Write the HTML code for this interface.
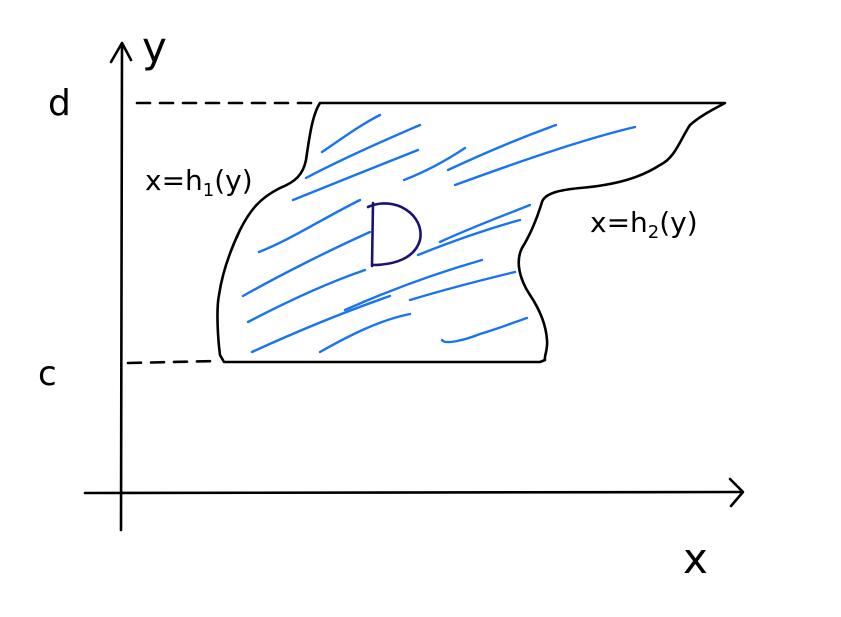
<!DOCTYPE html>
<html><head><meta charset="utf-8"><style>
html,body{margin:0;padding:0;background:#fff;width:841px;height:617px;overflow:hidden}
svg{display:block}
text{font-family:"DejaVu Sans","Liberation Sans",sans-serif}
</style></head><body>
<svg width="841" height="617" viewBox="0 0 841 617">
<rect width="841" height="617" fill="#fff"/>
<g fill="none" stroke="#000" stroke-width="2.6" stroke-linecap="round" stroke-linejoin="round">
 <path d="M121,530 L122,45"/>
 <path d="M111,62 L122,43 L131,60"/>
 <path d="M85,493 L740,492"/>
 <path d="M730,479 L743,492 L731,506"/>
 <path stroke-dasharray="13,10" d="M137,103 L318,103"/>
 <path stroke-dasharray="13,10" d="M128,363 L218,361"/>
 <path d="M320,103 L725,103 C712,110 700,116 690,125 C680,140 675,158 660,165 C640,178 615,185 580,188 C560,190 545,193 542,202 C538,215 532,232 522,248 C515,262 520,280 530,295 C540,310 546,325 547,340 C548,350 544,356 545,360 L540,362 L224,362 L220,355 C218,340 216,310 219,295 C222,275 228,255 240,230 C250,210 260,198 280,188 C295,182 303,175 306,160 C309,140 312,115 320,103 Z"/>
</g>
<g fill="none" stroke="#1a73f0" stroke-width="2.4" stroke-linecap="round">
 <path d="M322,152 C340,140 360,125 380,115"/>
 <path d="M306,178 C340,160 385,140 420,125"/>
 <path d="M293,200 C330,185 380,165 418,150"/>
 <path d="M404,180 C430,170 450,158 465,148"/>
 <path d="M448,170 C480,155 520,138 556,125"/>
 <path d="M455,185 C510,165 580,140 635,127"/>
 <path d="M259,252 C290,240 320,220 360,200"/>
 <path d="M243,296 C280,275 330,250 370,232"/>
 <path d="M440,242 C470,228 505,215 530,205"/>
 <path d="M248,322 C290,300 330,282 365,270"/>
 <path d="M418,255 C450,242 490,228 520,220"/>
 <path d="M252,352 C300,330 350,310 390,296"/>
 <path d="M345,310 C390,290 440,272 482,260"/>
 <path d="M410,300 C450,288 490,278 515,272"/>
 <path d="M320,352 C350,335 380,320 410,314"/>
 <path d="M442,340 C445,345 465,340 480,334 C500,328 515,322 527,318"/>
</g>
<path fill="none" stroke="#1a1470" stroke-width="2.6" stroke-linecap="round" d="M373,203 L372,266 M368,207 C395,195 425,215 420,240 C415,258 395,265 372,265"/>
<g fill="#000">
 <text x="142" y="62" font-size="42">y</text>
 <text x="683" y="573" font-size="42">x</text>
 <text x="48" y="115" font-size="36">d</text>
 <text x="38" y="385" font-size="34">c</text>
 <text x="145" y="190" font-size="28">x=h<tspan font-size="18" dy="6">1</tspan><tspan dy="-6">(y)</tspan></text>
 <text x="590" y="232" font-size="28">x=h<tspan font-size="18" dy="6">2</tspan><tspan dy="-6">(y)</tspan></text>
</g>
</svg>
</body></html>
